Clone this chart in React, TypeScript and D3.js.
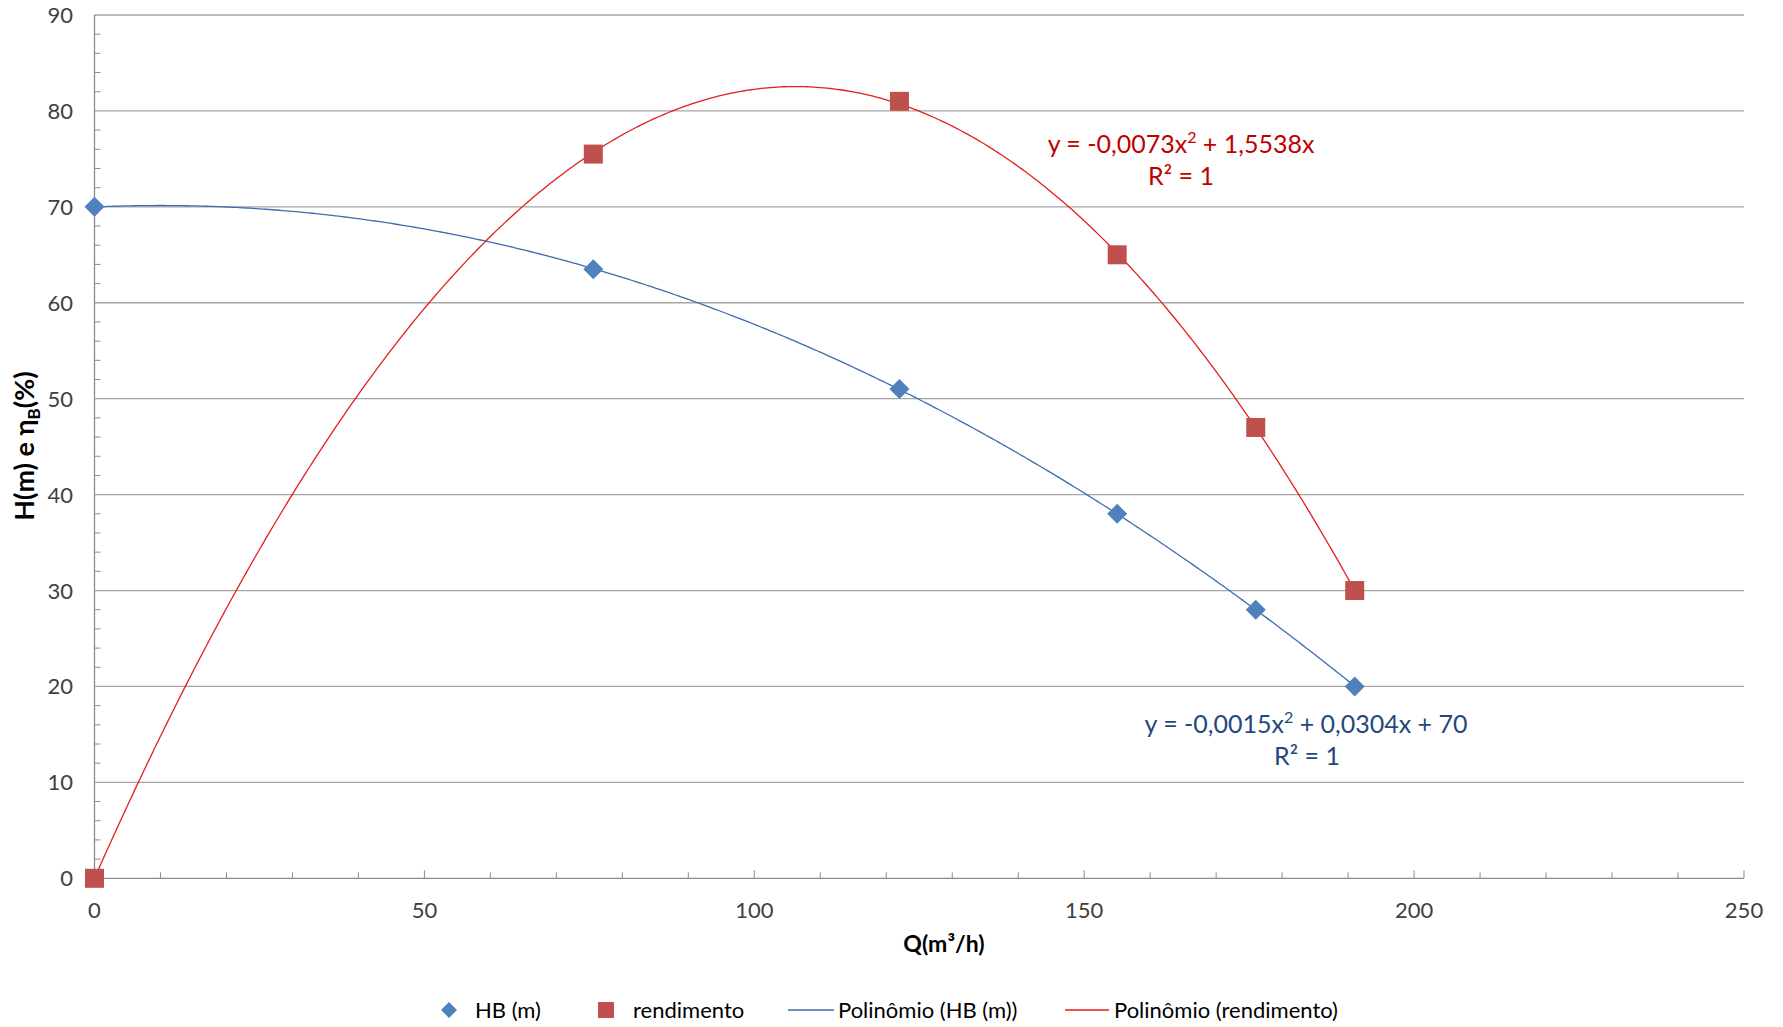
import React from "react";
import * as d3 from "d3";

const Q = [0, 75.6, 122, 155, 176, 191];
const HB = [70, 63.5, 51, 38, 28, 20];
const REND = [0, 75.5, 81, 65, 47, 30];
const X_TICKS = [0, 50, 100, 150, 200, 250];
const Y_TICKS = [0, 10, 20, 30, 40, 50, 60, 70, 80, 90];
const EQ_HB = ["y = -0,0015x", " + 0,0304x + 70", "R² = 1"];
const EQ_REND = ["y = -0,0073x", " + 1,5538x", "R² = 1"];
const LEGEND = ["HB (m)", "rendimento", "Polinômio (HB (m))", "Polinômio (rendimento)"];

const W = 1783;
const H = 1027;
const M = { left: 94.5, right: 1744, top: 15, bottom: 878.3 };
const FONT = "Lato, 'Open Sans', sans-serif";

// least squares polynomial fit with given powers
function fit(xs: number[], ys: number[], powers: number[]) {
  const n = powers.length;
  const A = Array.from({ length: n }, () => new Array(n + 1).fill(0));
  xs.forEach((x, k) => {
    const row = powers.map((p) => Math.pow(x, p));
    for (let i = 0; i < n; i++) {
      for (let j = 0; j < n; j++) A[i][j] += row[i] * row[j];
      A[i][n] += row[i] * ys[k];
    }
  });
  for (let i = 0; i < n; i++) {
    let piv = i;
    for (let r = i + 1; r < n; r++) if (Math.abs(A[r][i]) > Math.abs(A[piv][i])) piv = r;
    [A[i], A[piv]] = [A[piv], A[i]];
    for (let r = 0; r < n; r++) {
      if (r === i) continue;
      const f = A[r][i] / A[i][i];
      for (let c = i; c <= n; c++) A[r][c] -= f * A[i][c];
    }
  }
  const coef = A.map((row, i) => row[n] / row[i]);
  return (x: number) => powers.reduce((s, p, i) => s + coef[i] * Math.pow(x, p), 0);
}

function diamondPath(r: number) {
  return `M0,${-r}L${r},0L0,${r}L${-r},0Z`;
}

export default function App() {
  const x = d3.scaleLinear().domain([0, 250]).range([M.left, M.right]);
  const y = d3.scaleLinear().domain([0, 90]).range([M.bottom, M.top]);
  const fHB = fit(Q, HB, [0, 1, 2]);
  const fR = fit(Q, REND, [1, 2]);
  const qs = d3.range(0, (d3.max(Q) as number) + 0.001, 0.5);
  const line = d3
    .line<number[]>()
    .x((d) => x(d[0]))
    .y((d) => y(d[1]))
    .curve(d3.curveLinear);
  const hbPath = line(qs.map((q) => [q, fHB(q)])) as string;
  const rPath = line(qs.map((q) => [q, fR(q)])) as string;

  const yMinor = d3.range(0, 90, 2).filter((v) => v % 10 !== 0);
  const xMinor = d3.range(0, 250, 10).filter((v) => v % 50 !== 0);
  const grid = "#a6a6a6";
  const axis = "#8c8c8c";
  const blue = "#4F81BD";
  const red = "#C0504D";
  const blueLine = "#3D6DAD";
  const redLine = "#E31E1E";

  return (
    <svg
      width={W}
      height={H}
      style={{ position: "absolute", left: 0, top: 0, background: "#fff" }}
      fontFamily={FONT}
    >
      <rect width={W} height={H} fill="#fff" />
      {/* gridlines */}
      {Y_TICKS.filter((v) => v > 0).map((v) => (
        <line key={"g" + v} x1={M.left} x2={M.right} y1={y(v)} y2={y(v)} stroke={grid} strokeWidth={1.3} />
      ))}
      {/* y axis */}
      <line x1={M.left} x2={M.left} y1={M.top} y2={M.bottom} stroke={axis} strokeWidth={1.3} />
      {yMinor.map((v) => (
        <line key={"ym" + v} x1={M.left} x2={M.left + 6} y1={y(v)} y2={y(v)} stroke={axis} strokeWidth={1} />
      ))}
      {Y_TICKS.map((v) => (
        <text key={"yt" + v} x={73} y={y(v) + 8} textAnchor="end" fontSize={22} fill="#404040">
          {v}
        </text>
      ))}
      {/* x axis */}
      <line x1={M.left} x2={M.right} y1={M.bottom} y2={M.bottom} stroke={axis} strokeWidth={1.3} />
      {xMinor.map((v) => (
        <line key={"xm" + v} x1={x(v)} x2={x(v)} y1={M.bottom} y2={M.bottom - 6} stroke={axis} strokeWidth={1} />
      ))}
      {X_TICKS.map((v) => (
        <line key={"xM" + v} x1={x(v)} x2={x(v)} y1={M.bottom} y2={M.bottom - 8} stroke={axis} strokeWidth={1} />
      ))}
      {X_TICKS.map((v) => (
        <text key={"xt" + v} x={x(v)} y={918} textAnchor="middle" fontSize={22} fill="#404040">
          {v}
        </text>
      ))}
      {/* axis titles */}
      <text x={944} y={952} textAnchor="middle" fontSize={23} fontWeight="bold" fill="#000">
        Q(m³/h)
      </text>
      <text
        transform={`translate(34,446) rotate(-90)`}
        textAnchor="middle"
        fontSize={27}
        fontWeight="bold"
        fill="#000"
      >
        H(m) e η<tspan fontSize={17} dy={6}>B</tspan>
        <tspan dy={-6}>(%)</tspan>
      </text>
      {/* trendlines */}
      <path d={hbPath} fill="none" stroke={blueLine} strokeWidth={1.3} />
      <path d={rPath} fill="none" stroke={redLine} strokeWidth={1.3} />
      {/* markers */}
      {Q.map((q, i) => (
        <path key={"d" + i} d={diamondPath(10)} transform={`translate(${x(q)},${y(HB[i])})`} fill={blue} />
      ))}
      {Q.map((q, i) => (
        <rect key={"s" + i} x={x(q) - 9.5} y={y(REND[i]) - 9.5} width={19} height={19} fill={red} />
      ))}
      {/* equations */}
      <text x={1181} y={153} textAnchor="middle" fontSize={25} fill="#C00000">
        {EQ_REND[0]}
        <tspan fontSize={16} dy={-10}>2</tspan>
        <tspan dy={10}>{EQ_REND[1]}</tspan>
      </text>
      <text x={1181} y={185} textAnchor="middle" fontSize={25} fill="#C00000">
        {EQ_REND[2]}
      </text>
      <text x={1306} y={733} textAnchor="middle" fontSize={25} fill="#1F497D">
        {EQ_HB[0]}
        <tspan fontSize={16} dy={-10}>2</tspan>
        <tspan dy={10}>{EQ_HB[1]}</tspan>
      </text>
      <text x={1307} y={765} textAnchor="middle" fontSize={25} fill="#1F497D">
        {EQ_HB[2]}
      </text>
      {/* legend */}
      <g fontSize={22} fill="#000">
        <path d={diamondPath(8)} transform="translate(449,1010)" fill={blue} />
        <text x={475} y={1017.5}>{LEGEND[0]}</text>
        <rect x={598} y={1002} width={16} height={16} fill={red} />
        <text x={633} y={1017.5}>{LEGEND[1]}</text>
        <line x1={788} x2={834} y1={1010} y2={1010} stroke={blueLine} strokeWidth={1.5} />
        <text x={838} y={1017.5}>{LEGEND[2]}</text>
        <line x1={1065} x2={1109} y1={1010} y2={1010} stroke={redLine} strokeWidth={1.5} />
        <text x={1114} y={1017.5}>{LEGEND[3]}</text>
      </g>
    </svg>
  );
}
